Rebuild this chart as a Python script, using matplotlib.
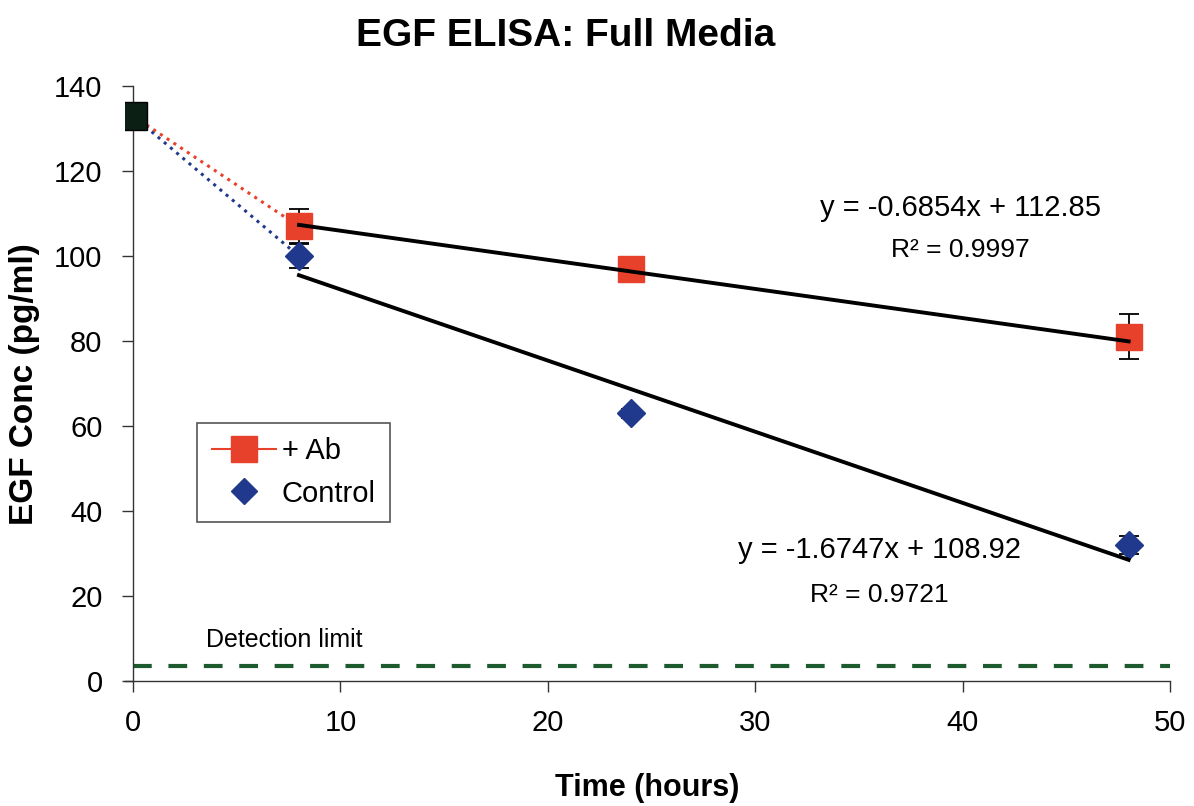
import numpy as np
import matplotlib
matplotlib.use("Agg")
from matplotlib import pyplot as plt
from matplotlib import font_manager

# Measured EGF concentrations (pg/ml) over time
hours = [0, 8, 24, 48]
ab_conc = [133, 107, 97, 81]
ab_err = [0, 4, 0, 5.3]
ctrl_conc = [133, 100, 63, 32]
ctrl_err = [0, 2.8, 1, 2.1]

# Linear fits over 8-48 h
fit_hours = [8, 48]
ab_slope, ab_icpt, ab_r2 = -0.6854, 112.85, 0.9997
ctrl_slope, ctrl_icpt, ctrl_r2 = -1.6747, 108.92, 0.9721

detection_limit = 3.5

plt.rcParams['font.family'] = ['Liberation Sans', 'DejaVu Sans']
names = {f.name for f in font_manager.fontManager.ttflist}
narrow = 'Liberation Sans Narrow' if 'Liberation Sans Narrow' in names else 'Liberation Sans'

RED = '#e8412b'
BLUE = '#20398c'
GREEN = '#1d5a2e'

fig = plt.figure(figsize=(11.94, 8.06), dpi=100)
ax = fig.add_axes([0.1045, 0.155, 0.8755, 0.738])

# dotted joins from the starting point to the first sample
ax.plot(hours[:2], ab_conc[:2], ':', color=RED, lw=2.2, zorder=2)
ax.plot(hours[:2], ctrl_conc[:2], ':', color=BLUE, lw=2.2, zorder=2)

# trend lines
fx = np.array(fit_hours)
ax.plot(fx, ab_slope * fx + ab_icpt, color='black', lw=2.8, zorder=4)
ax.plot(fx, ctrl_slope * fx + ctrl_icpt, color='black', lw=2.8, zorder=4)

# error bars and markers (t > 0)
ax.errorbar(hours[1:], ab_conc[1:], yerr=ab_err[1:], fmt='none', ecolor='black',
            elinewidth=1.3, capsize=7, capthick=1.3, zorder=3)
ax.errorbar(hours[1:], ctrl_conc[1:], yerr=ctrl_err[1:], fmt='none', ecolor='black',
            elinewidth=1.3, capsize=7, capthick=1.3, zorder=3)
ax.plot(hours[1:], ab_conc[1:], 's', color=RED, ms=19, mec=RED, zorder=3.5)
ax.plot(hours[1:], ctrl_conc[1:], 'D', color=BLUE, ms=14, mec=BLUE, zorder=3.5)
# shared starting value
ax.plot(hours[0], ab_conc[0], 's', color='#0b1f14', mec='black', ms=20, zorder=5)

# legend proxies
ab_handle, = ax.plot([], [], '-s', color=RED, lw=1.5, ms=19, mec=RED)
ctrl_handle, = ax.plot([], [], 'D', color=BLUE, ms=13, mec=BLUE)
leg = ax.legend([ab_handle, ctrl_handle], ['+ Ab', 'Control'], loc='lower left',
                bbox_to_anchor=(0.165, 0.352), bbox_transform=fig.transFigure,
                borderaxespad=0, fontsize=21, fancybox=False, framealpha=1,
                edgecolor='#555555', handlelength=2.2, handletextpad=0.2,
                labelspacing=0.5, borderpad=0.5)
leg.get_frame().set_linewidth(1.2)

# detection limit
ax.plot([0, 50], [detection_limit, detection_limit], '--', color=GREEN, lw=3,
        dashes=(4.5, 4), zorder=2)
ax.text(7.3, 9.6, 'Detection limit', fontsize=18, ha='center', va='center')

# fit equations
ax.text(39.9, 111.3, f'y = {ab_slope}x + {ab_icpt}', fontsize=21, ha='center', va='center')
ax.text(39.9, 101.4, f'R² = {ab_r2}', fontsize=19, ha='center', va='center')
ax.text(36.0, 30.8, f'y = {ctrl_slope}x + {ctrl_icpt}', fontsize=21, ha='center', va='center')
ax.text(36.0, 20.2, f'R² = {ctrl_r2}', fontsize=19, ha='center', va='center')

ax.set_xlim(-0.4, 50)
ax.set_ylim(0, 140)
ax.set_xticks(range(0, 51, 10))
ax.set_yticks(range(0, 141, 20))
ax.spines['top'].set_visible(False)
ax.spines['right'].set_visible(False)
ax.spines['left'].set_position(('data', 0))
for s in ('left', 'bottom'):
    ax.spines[s].set_color('#333333')
    ax.spines[s].set_linewidth(1.0)
ax.tick_params(direction='out', length=8, width=1.0, color='#333333', labelsize=21)
ax.tick_params(axis='x', pad=12)
ax.tick_params(axis='y', pad=14)

ax.set_xlabel('Time (hours)', fontsize=22, fontweight='bold', family=narrow, labelpad=26)
ax.set_ylabel('EGF Conc (pg/ml)', fontsize=24, fontweight='bold', labelpad=10)
fig.suptitle('EGF ELISA: Full Media', fontsize=28, fontweight='bold', family=narrow,
             x=0.474, y=0.978)

fig.savefig('out.png', dpi=100)
